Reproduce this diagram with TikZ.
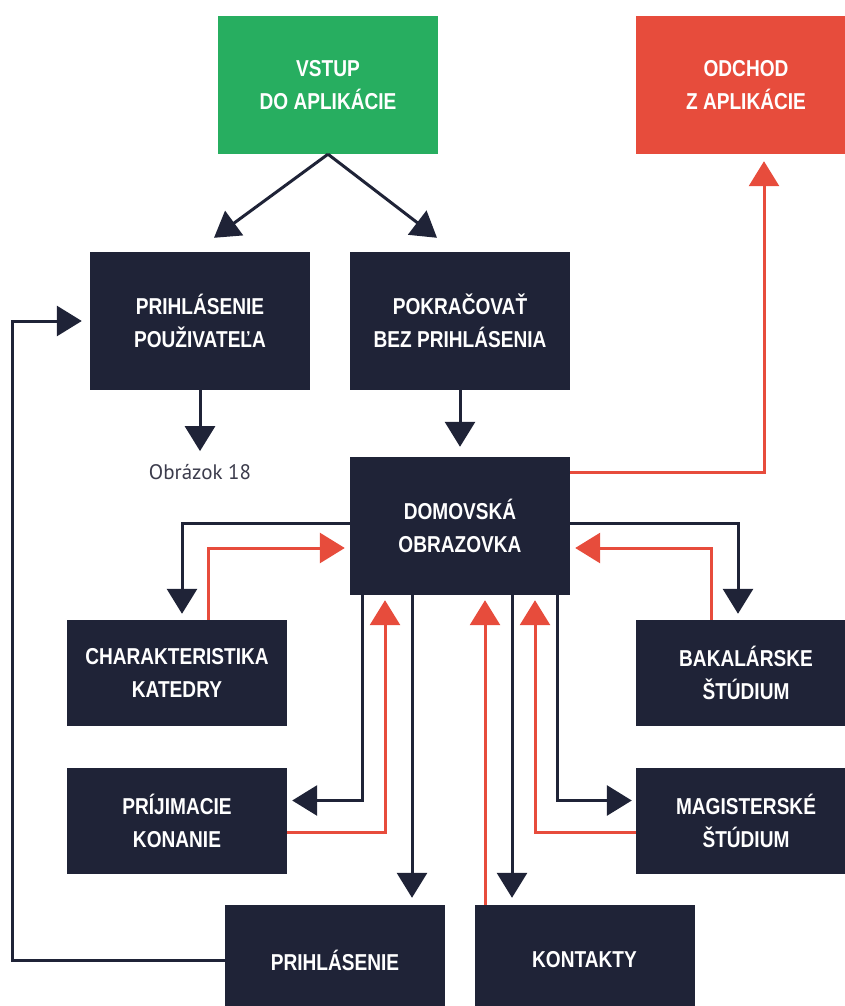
\documentclass[tikz,border=0pt]{standalone}
\usepackage{fontspec}
\newfontfamily\boxfont[FakeStretch=0.83]{Liberation Sans}
\newfontfamily\notefont{PT Sans}
\usetikzlibrary{arrows.meta,calc}
\definecolor{navybox}{HTML}{1F2337}
\definecolor{greenbox}{HTML}{27AE60}
\definecolor{redbox}{HTML}{E74C3C}
\definecolor{notegray}{HTML}{3C3C4C}

\begin{document}
\begin{tikzpicture}[
    x=1pt, y=-1pt,
    box/.style={rectangle, fill=navybox, text=white, inner sep=0pt,
        minimum width=220pt, minimum height=106pt, align=center,
        font={\boxfont\bfseries\fontsize{23}{33.5}\selectfont}},
    tall/.style={box, minimum height=138pt},
    dk/.style={draw=navybox, line width=3pt, -{Triangle[length=25pt,width=30pt]}},
    rd/.style={dk, draw=redbox}
]
    \useasboundingbox (0,0) rectangle (845,1006);

    % Top row: entry and exit
    \node[tall, fill=greenbox] (vstup) at (328,85) {VSTUP\\DO APLIKÁCIE};
    \node[tall, fill=redbox] (odchod) at (746,85) {ODCHOD\\Z APLIKÁCIE};

    % Second row
    \node[tall] (prihl) at (200,321) {PRIHLÁSENIE\\POUŽIVATEĽA};
    \node[tall] (pokr) at (460,321) {POKRAČOVAŤ\\BEZ PRIHLÁSENIA};
    \node[font=\notefont\fontsize{21}{25}\selectfont, text=notegray,
        inner sep=0pt] (obr) at (200,472) {Obrázok 18};

    % Home screen and its sub screens
    \node[tall] (domov) at (460,526) {DOMOVSKÁ\\OBRAZOVKA};
    \node[box] (charakt) at (177,673) {CHARAKTERISTIKA\\KATEDRY};
    \node[box] (bakal) at (746,673) {BAKALÁRSKE\\ŠTÚDIUM};
    \node[box] (prijim) at (177,821) {PRÍJIMACIE\\KONANIE};
    \node[box] (magist) at (746,821) {MAGISTERSKÉ\\ŠTÚDIUM};
    \node[box, minimum height=110pt] (prihlas) at (335,960) {PRIHLÁSENIE};
    \node[box, minimum height=110pt] (kontakty) at (584.5,960) {KONTAKTY};
    \coordinate (lft) at (12,321);

    % Entry
    \draw[dk] (vstup.south) -- ([xshift=14pt,yshift=14pt]prihl.north);
    \draw[dk] (vstup.south) -- ([xshift=-23pt,yshift=14pt]pokr.north);
    \draw[dk, shorten >=13pt] (prihl.south) -- (obr.north);
    \draw[dk, shorten >=10pt] (pokr.south) -- (domov.north);
    \draw[rd, shorten >=7pt] ([yshift=54pt]domov.east) -| ([xshift=18pt]odchod.south);

    % Left and right of the home screen
    \draw[dk, shorten >=6pt] ([yshift=3pt]domov.west) -| ([xshift=5pt]charakt.north);
    \draw[rd, shorten >=5pt] ([xshift=31pt]charakt.north) |- ([yshift=-22pt]domov.west);
    \draw[dk, shorten >=6pt] ([yshift=3pt]domov.east) -| ([xshift=-8pt]bakal.north);
    \draw[rd, shorten >=5pt] ([xshift=-35pt]bakal.north) |- ([yshift=-22pt]domov.east);

    % Below the home screen
    \draw[dk, shorten >=5pt] ([xshift=-98pt]domov.south) |- ([yshift=20.5pt]prijim.east);
    \draw[rd, shorten >=5pt] ([yshift=-11.5pt]prijim.east) -| ([xshift=-75pt]domov.south);
    \draw[dk, shorten >=7pt] ([xshift=-48pt]domov.south) -- ([xshift=-48pt]domov.south |- prihlas.north);
    \draw[rd, shorten >=5pt] ([xshift=-99.5pt]kontakty.north) -- ([xshift=-99.5pt]kontakty.north |- domov.south);
    \draw[dk, shorten >=7pt] ([xshift=52pt]domov.south) -- ([xshift=52pt]domov.south |- kontakty.north);
    \draw[rd, shorten >=5pt] ([yshift=-11.5pt]magist.west) -| ([xshift=75pt]domov.south);
    \draw[dk, shorten >=4pt] ([xshift=97pt]domov.south) |- ([yshift=20.5pt]magist.west);

    % Back to user login
    \draw[dk, shorten >=8pt] (prihlas.west) -| (lft) -- (prihl.west);
\end{tikzpicture}
\end{document}
